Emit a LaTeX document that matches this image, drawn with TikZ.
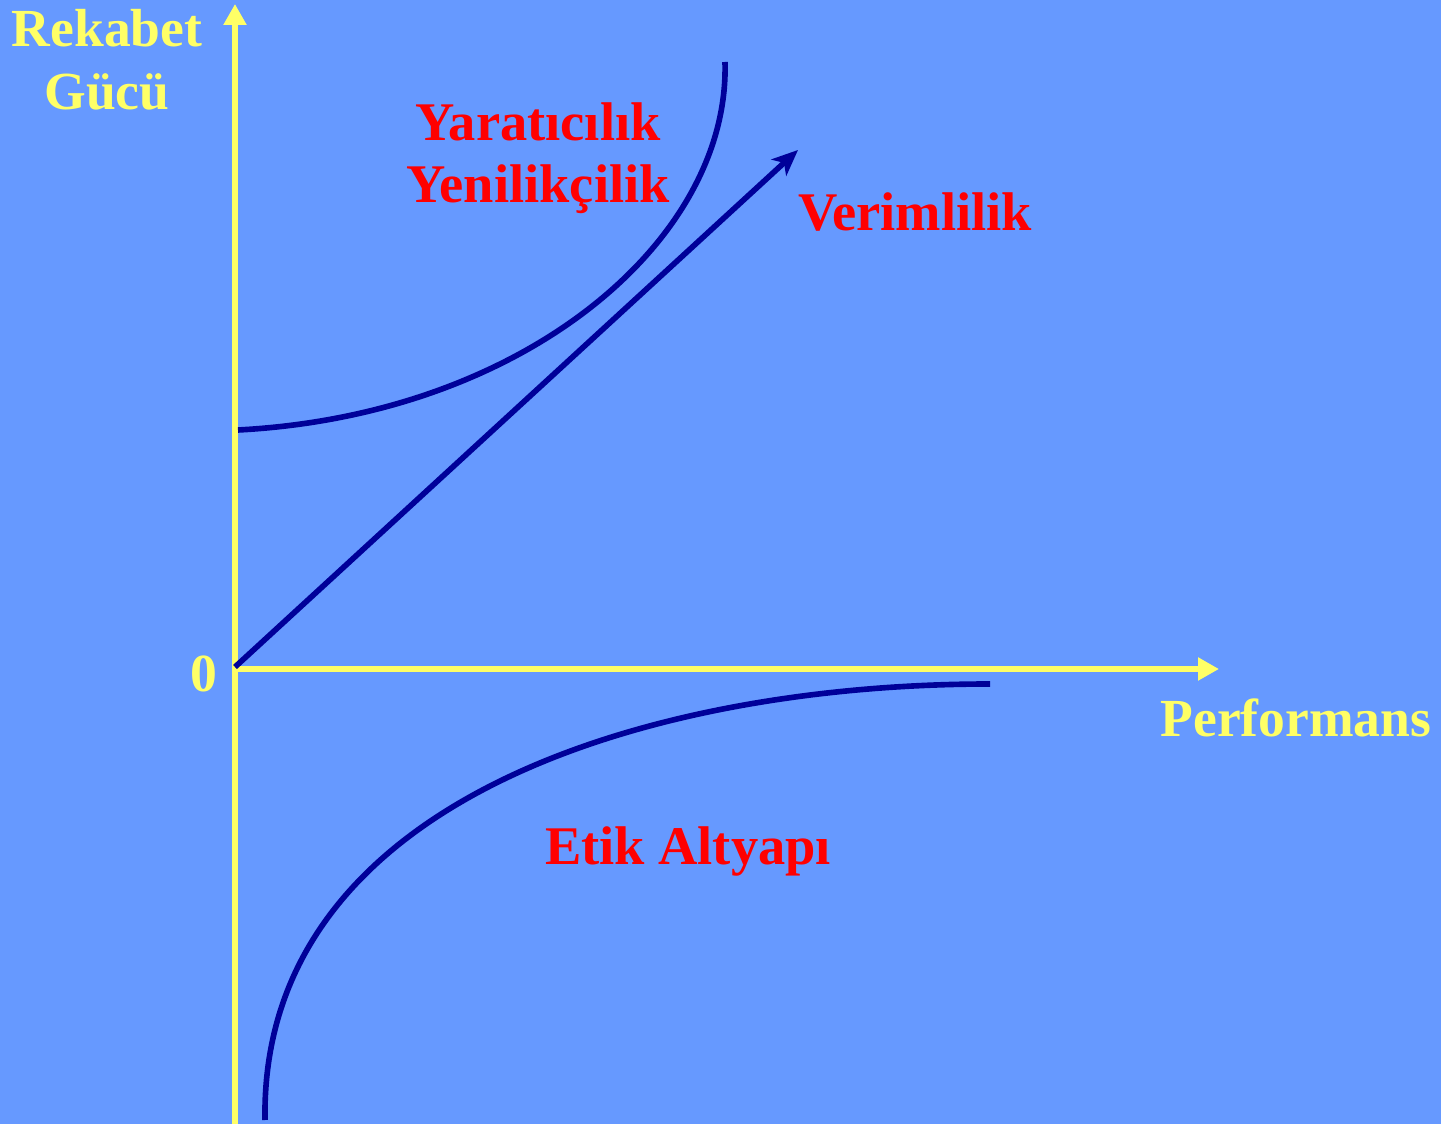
\documentclass[tikz,border=0pt]{standalone}
\usepackage{fontspec}
\setmainfont{Liberation Serif}
\usepackage{xcolor}
\usetikzlibrary{arrows.meta,positioning}

\definecolor{bgblue}{HTML}{6699FF}
\definecolor{axisyellow}{HTML}{FFFF66}
\definecolor{curveblue}{HTML}{000099}
\definecolor{labelred}{HTML}{FF0000}

\begin{document}
\begin{tikzpicture}[
  x=0.02cm, y=-0.02cm,
  axis/.style={draw=axisyellow, line width=3.8pt},
  curve/.style={draw=curveblue, line width=3.2pt},
  axislabel/.style={text=axisyellow, font=\fontsize{30.5}{36}\selectfont\bfseries, align=center, inner sep=0pt},
  factor/.style={text=labelred, font=\fontsize{31}{35}\selectfont\bfseries, align=center, inner sep=0pt}
]

% Background
\fill[bgblue] (0,0) rectangle (1441,1124);
\useasboundingbox (0,0) rectangle (1441,1124);

% Coordinates
\coordinate (origin) at (235,667);
\coordinate (ybottom) at (235,1124);
\coordinate (ytop) at (235,4);
\coordinate (xleft) at (232,669);
\coordinate (xright) at (1219,669);
\coordinate (prodtip) at (798,150);

% Nodes
\node[axislabel] (power) at (107,60) {Rekabet\\Gücü};
\node[axislabel, anchor=base] (zero) at (204,692) {0};
\node[axislabel, anchor=base] (perf) at (1296,737) {Performans};
\node[factor] (creative) at (538,158) {Yaratıcılık\\Yenilikçilik};
\node[factor, anchor=base] (prod) at (915,231) {Verimlilik};
\node[factor, anchor=base] (ethics) at (688,865) {Etik Altyapı};

% Edges
\draw[axis, -{Triangle[length=0.42cm,width=0.44cm]}] (ybottom) -- (ytop);
\draw[axis, -{Triangle[length=0.42cm,width=0.44cm]}] (xleft) -- (xright);
\draw[curve] (238,430) .. controls (525,415) and (730,240) .. (725,62);
\draw[curve] (265,1120) .. controls (260,800) and (650,684) .. (990,684);
\draw[curve, -{Stealth[length=0.52cm,width=0.44cm,inset=0.14cm]}] (origin) -- (prodtip);

\end{tikzpicture}
\end{document}
